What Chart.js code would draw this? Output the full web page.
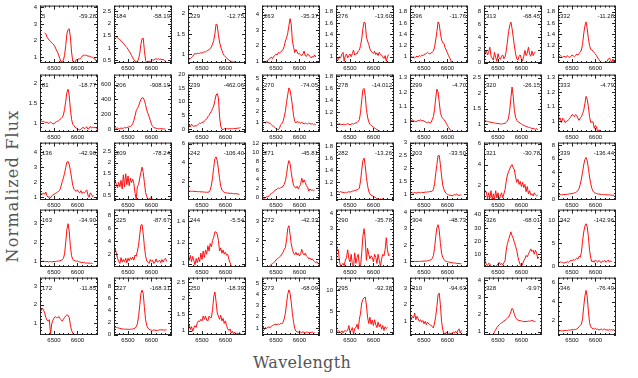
<!DOCTYPE html>
<html>
<head>
<meta charset="utf-8">
<script src="https://cdn.jsdelivr.net/npm/chart.js@4.4.1/dist/chart.umd.min.js"></script>
<style>
  body { margin: 0; background: #fff; }
  #page { position: relative; width: 638px; height: 378px; overflow: hidden; }
  #page canvas { position: absolute; }
  .title { position: absolute; font-family: "DejaVu Serif", serif; font-size: 16px; color: #555; white-space: nowrap; letter-spacing: 0.3px; }
  #ytitle { left: 12px; top: 186px; transform: translate(-50%, -50%) rotate(-90deg); letter-spacing: 1.2px; }
  #xtitle { left: 302px; top: 362px; transform: translate(-50%, -50%); }
</style>
</head>
<body>
<div id="page">
  <div id="ytitle" class="title">Normalized Flux</div>
  <div id="xtitle" class="title">Wavelength</div>
</div>
<script>
// wavelength grid (Angstrom) shared by every panel
const wavelengths = [6440, 6445, 6450, 6455, 6460, 6465, 6470, 6475, 6480, 6485,
  6490, 6495, 6500, 6505, 6510, 6515, 6520, 6525, 6530, 6535,
  6540, 6545, 6550, 6555, 6560, 6565, 6570, 6575, 6580, 6585,
  6590, 6595, 6600, 6605, 6610, 6615, 6620, 6625, 6630, 6635,
  6640, 6645, 6650, 6655, 6660, 6665, 6670, 6675, 6680, 6685];
const xTickLabels = [6500, 6600];

const starIds = ['5', '184', '229', '263', '276', '296', '313', '332',
  '81', '206', '239', '270', '278', '299', '320', '333',
  '136', '209', '242', '271', '282', '303', '321', '339',
  '163', '225', '244', '272', '290', '304', '326', '342',
  '172', '227', '250', '273', '295', '310', '328', '346'];

const velocities = ['-59.28', '-58.19', '-12.75', '-35.37', '-13.60', '-11.76', '-68.45', '-11.28',
  '-18.77', '-908.19', '-462.06', '-74.05', '-14.012', '-4.70', '-26.15', '-4.79',
  '-42.90', '-78.24', '-106.40', '-45.81', '-13.26', '-33.50', '-30.78', '-136.44',
  '-34.90', '-87.67', '-5.54', '-42.33', '-35.78', '-48.73', '-68.01', '-142.96',
  '-11.85', '-168.31', '-18.39', '-68.09', '-92.38', '-94.63', '-9.97', '-76.49'];

// y axis limits and tick steps per panel
const yMin = [0.64, 0.39, 0.79, 0.87, 0.89, 0.89, -0.05, 0.89,
  0.78, -35, -1.1, 0.14, 0.87, 0.925, 0.75, 0.925,
  0.82, 0.3, 0.05, -0.66, 0.9, 0.77, 0.61, -0.1,
  0.7, 0.05, 0.97, 0.57, 0.46, 0.66, 0.2, -0.14,
  0.35, -0.05, 0.86, 0.36, -0.8, 0.18, 0.81, 0.48];
const yMax = [4.1, 2.73, 2.19, 4.6, 1.91, 1.91, 8.87, 1.91,
  2.23, 733, 20, 5.3, 1.83, 1.32, 2.6, 1.32,
  4.66, 2.92, 6.1, 12.1, 1.86, 3.0, 6.1, 8.4,
  3.75, 8.9, 1.51, 3.6, 4.26, 4.16, 44, 12.4,
  3.46, 9.46, 2.65, 5.5, 13.1, 3.63, 4.13, 6.55];
const yMajor = [1, 0.5, 0.5, 1, 0.2, 0.2, 2, 0.2,
  0.5, 200, 5, 1, 0.2, 0.1, 0.5, 0.1,
  1, 0.5, 2, 2, 0.2, 0.5, 2, 2,
  1, 2, 0.2, 1, 1, 1, 10, 5,
  1, 2, 0.5, 1, 5, 1, 1, 2];
const yMinor = [0.2, 0.1, 0.1, 0.2, 0.05, 0.05, 0.5, 0.05,
  0.1, 50, 1, 0.2, 0.05, 0.02, 0.1, 0.02,
  0.2, 0.1, 0.5, 0.5, 0.05, 0.1, 0.5, 0.5,
  0.2, 0.5, 0.05, 0.2, 0.2, 0.2, 2, 1,
  0.2, 0.5, 0.1, 0.2, 1, 0.2, 0.2, 0.5];

// normalized flux (null = no data)
const flux5 = [null, null, null, null, 2.45, 2.4, 2.2, 2.1, 2.0, 1.95,
  1.85, 1.8, 1.72, 1.6, 1.42, 1.3, 1.1, 0.9, 0.72, 0.75,
  0.8, 1.1, 1.7, 2.4, 2.65, 2.7, 2.2, 1.3, 0.75, 0.65,
  0.7, 0.85, 0.8, 0.9, 0.88, 0.95, 1.05, 1.1, 1.12, 1.08,
  1.1, 1.05, 1.06, 1.02, 1.0, 0.98, 0.92, 0.88, 0.78, 0.66];
const flux184 = [1.51, 1.48, 1.45, 1.42, 1.38, 1.34, 1.3, 1.24, 1.2, 1.14,
  1.07, 1.02, 0.95, 0.87, 0.8, 0.7, 0.6, 0.52, 0.47, 0.43,
  0.46, 0.55, 0.77, 1.15, 1.38, 1.4, 0.9, 0.5, 0.4, 0.45,
  0.47, 0.44, 0.5, 0.52, 0.5, 0.55, 0.56, 0.54, 0.56, 0.53,
  0.55, 0.52, 0.54, 0.5, 0.48, null, null, null, null, null];
const flux229 = [0.86, 0.88, 0.9, 0.92, 0.95, 1.0, 1.02, 1.01, 1.03, 1.02,
  1.03, 1.04, 1.03, 1.05, 1.06, 1.06, 1.08, 1.1, 1.12, 1.14,
  1.18, 1.25, 1.34, 1.5, 1.74, 1.72, 1.48, 1.3, 1.18, 1.1,
  1.02, 0.97, 0.94, 0.92, 0.88, 0.86, 0.84, 0.83, 0.82, 0.81,
  0.82, 0.8, 0.81, 0.8, 0.8, null, null, null, null, null];
const flux263 = [0.87, 0.92, 0.95, 0.98, 0.98, 1.05, 1.1, 1.2, 1.25, 1.15,
  1.3, 1.35, 1.45, 1.4, 1.55, 1.5, 1.6, 1.65, 1.75, 1.95,
  2.3, 2.5, 2.8, 3.3, 3.75, 3.4, 2.3, 1.9, 1.55, 1.75,
  1.6, 1.45, 1.5, 1.4, 1.35, 1.45, 1.65, 1.35, 1.3, 1.45,
  1.4, 1.3, 1.2, 1.3, 1.25, 1.4, 1.25, null, null, null];
const flux276 = [0.91, 0.97, 0.95, 1.0, 0.98, 1.05, 1.08, 0.92, 1.02, 1.05,
  0.98, 1.02, 1.05, 1.0, 1.06, 1.12, 1.03, 1.06, 1.05, 1.1,
  1.12, 1.2, 1.32, 1.5, 1.62, 1.6, 1.35, 1.28, 1.22, 1.14,
  1.1, 1.08, 1.06, 1.1, 1.04, 1.07, 1.02, 1.08, 1.04, 1.03,
  1.0, 0.97, 1.02, 0.92, 1.0, 1.04, null, null, null, null];
const flux296 = [0.99, 1.0, 0.99, 1.0, 0.98, 1.0, 1.01, 1.0, 1.02, 1.01,
  1.03, 1.02, 1.04, 1.05, 1.06, 1.08, 1.06, 1.05, 1.07, 1.08,
  1.1, 1.17, 1.3, 1.45, 1.62, 1.58, 1.42, 1.3, 1.25, 1.24,
  1.16, 1.12, 1.07, 1.02, 0.98, 0.93, 0.88, 0.85, 0.84, 0.85,
  0.88, 0.9, 0.89, 0.86, 0.84, null, null, null, null, null];
const flux313 = [0.9, 1.5, 1.9, 1.2, 1.6, 2.4, 1.0, 0.7, 0.4, 1.6,
  0.8, 0.2, 1.4, 0.7, 0.5, 1.0, 1.2, 0.6, 0.9, 1.8,
  3.2, 4.8, 5.8, 6.3, 5.3, 4.0, 2.6, 1.4, 0.6, 0.4,
  1.0, 1.2, 0.6, 0.3, 1.0, 1.9, 1.1, 1.5, 2.4, 1.3,
  1.0, 1.8, 1.1, 1.5, 1.7, null, null, null, null, null];
const flux332 = [1.01, 1.0, 1.02, 1.01, 0.99, 1.01, 1.0, 0.99, 1.02, 1.0,
  0.99, 1.01, 1.03, 1.02, 1.0, 1.02, 1.05, 1.03, 1.06, 1.08,
  1.12, 1.22, 1.41, 1.55, 1.62, 1.5, 1.32, 1.2, 1.13, 1.12,
  1.1, 1.07, 1.05, 1.02, 0.98, 0.95, 0.92, 0.9, 0.89, 0.9,
  0.88, 0.9, 0.92, 0.96, 0.98, 0.94, 0.9, 0.96, 0.88, null];
const flux81 = [1.04, 1.06, 1.04, 1.05, 1.03, 1.02, 1.03, 1.0, 1.01, 1.03,
  1.01, 0.99, 0.98, 1.02, 1.04, 1.05, 1.07, 1.1, 1.12, 1.15,
  1.21, 1.35, 1.55, 1.78, 1.86, 1.7, 1.35, 1.1, 0.98, 0.94,
  0.9, 0.88, 0.86, 0.84, 0.83, 0.85, 0.88, 0.9, 0.86, 0.89,
  0.91, 0.85, 0.87, 0.92, 0.88, 0.9, 0.89, 0.9, 0.88, 0.87];
const flux206 = [13, 20, 15, 18, 10, 8, 20, 12, 15, 28,
  20, 25, 30, 35, 40, 50, 75, 120, 180, 250,
  280, 310, 360, 400, 425, 420, 390, 330, 260, 215,
  170, 120, 70, 40, 25, 20, 15, 12, 10, 8,
  10, 8, 6, 5, 5, null, null, null, null, null];
const flux239 = [0.0, 1.4, 0.8, 1.8, 1.2, 0.9, 1.3, 1.0, 1.5, 1.8,
  2.2, 2.0, 2.5, 2.4, 3.0, 3.3, 3.8, 4.5, 5.0, 5.8,
  6.5, 7.5, 8.5, 10.5, 12.5, 13.0, 11.5, 4.5, 1.0, -0.1,
  -0.2, 0.1, 0.0, 0.1, 0.05, 0.1, 0.1, 0.15, 0.1, 0.2,
  0.15, 0.2, 0.3, 0.3, 0.4, 0.6, null, null, null, null];
const flux270 = [0.85, 0.95, 1.0, 0.95, 1.05, 1.0, 0.95, 0.9, 0.8, 0.7,
  0.65, 0.55, 0.45, 0.4, 0.33, 0.5, 0.8, 0.9, 1.1, 1.5,
  2.0, 2.8, 3.5, 4.1, 3.9, 3.3, 2.5, 1.6, 1.1, 0.95,
  1.1, 1.0, 1.05, 0.9, 1.0, 0.95, 0.85, 0.95, 0.9, 0.85,
  0.95, 0.88, 0.85, 0.9, 0.8, 0.85, 0.78, null, null, null];
const flux278 = [1.0, 1.0, 1.0, 1.01, 1.0, 0.99, 1.0, 1.0, 0.99, 1.0,
  1.01, 1.0, 0.99, 1.0, 1.01, 1.0, 1.02, 1.02, 1.03, 1.05,
  1.08, 1.2, 1.4, 1.58, 1.6, 1.48, 1.25, 1.12, 1.04, 1.0,
  0.98, 0.97, 0.95, 0.94, 0.92, 0.91, 0.9, 0.89, 0.88, 0.87,
  0.86, null, null, null, null, null, null, null, null, null];
const flux299 = [1.005, 1.0, 1.01, 1.0, 1.0, 0.995, 1.0, 1.005, 1.0, 1.01,
  1.0, 1.005, 1.0, 0.995, 0.99, 0.99, 0.995, 0.985, 0.99, 1.01,
  1.03, 1.08, 1.16, 1.22, 1.2, 1.13, 1.06, 1.03, 1.02, 1.01,
  1.0, 0.985, 0.97, 0.955, 0.945, 0.935, 0.925, 0.92, 0.92, 0.925,
  0.92, 0.92, null, null, null, null, null, null, null, null];
const flux320 = [1.1, 1.12, 1.1, 1.09, 1.08, 1.07, 1.06, 1.06, 1.05, 1.04,
  1.03, 1.03, 1.02, 1.02, 1.01, 1.0, 1.02, 1.02, 1.03, 1.06,
  1.1, 1.2, 1.45, 1.85, 2.2, 1.9, 1.45, 1.22, 1.13, 1.08,
  1.06, 1.04, 1.0, 0.98, 0.96, 0.95, 0.93, 0.92, 0.9, 0.9,
  0.88, 0.86, 0.87, 0.85, 0.84, 0.86, 0.82, null, null, null];
const flux333 = [1.05, 1.01, 1.02, 0.99, 1.02, 1.01, 0.99, 0.995, 1.0, 1.01,
  1.02, 1.03, 1.045, 1.04, 1.03, 1.045, 1.04, 1.02, 1.005, 1.02,
  1.03, 1.05, 1.075, 1.12, 1.17, 1.15, 1.1, 1.03, 0.99, 0.995,
  0.995, 0.95, 0.97, 0.96, 0.92, 0.94, 0.93, 0.92, 0.93, 0.92,
  null, null, null, null, null, null, null, null, null, null];
const flux136 = [1.13, 1.25, 1.2, 1.3, 1.2, 1.35, 1.1, 1.0, 1.05, 0.95,
  1.1, 1.15, 1.2, 1.25, 1.3, 1.35, 1.4, 1.5, 1.75, 2.05,
  2.3, 2.6, 3.0, 3.35, 3.4, 3.2, 2.8, 2.3, 1.8, 1.55,
  1.45, 1.4, 1.5, 1.35, 1.3, 1.45, 1.25, 1.35, 1.3, 1.4,
  1.5, 1.15, 1.0, 1.3, 1.2, 1.05, 1.1, null, null, null];
const flux209 = [0.95, 1.2, 1.0, 0.85, 1.1, 0.9, 1.2, 0.8, 1.45, 0.9,
  1.5, 1.0, 1.4, 0.95, 1.3, 1.1, 1.25, 1.05, 0.6, 0.35,
  0.9, 1.0, 1.3, 1.55, 1.8, 1.55, 1.1, 0.65, 0.45, 0.35,
  0.32, 0.4, 0.36, 0.34, 0.3, 0.33, 0.32, 0.35, 0.32, 0.3,
  null, null, null, null, null, null, null, null, null, null];
const flux242 = [0.98, 0.96, 1.0, 0.95, 0.98, 0.95, 0.96, 0.93, 0.95, 0.92,
  0.94, 0.9, 0.92, 0.88, 0.9, 0.85, 0.88, 0.86, 0.9, 1.1,
  1.6, 2.4, 3.5, 4.4, 4.6, 4.2, 3.3, 2.3, 1.5, 1.1,
  0.95, 0.85, 0.82, 0.8, 0.78, 0.76, 0.75, 0.76, 0.74, 0.73,
  0.7, 0.72, 0.7, 0.68, 0.65, null, null, null, null, null];
const flux271 = [null, -0.4, -0.3, -0.1, 0.1, 0.0, 0.3, 0.6, 0.8, 0.9,
  1.2, 1.5, 1.6, 1.8, 2.0, 1.9, 2.1, 2.2, 2.4, 2.8,
  3.6, 5.0, 7.0, 8.1, 7.5, 5.5, 3.8, 2.6, 2.2, 2.0,
  2.4, 1.8, 2.3, 2.8, 4.2, 3.2, 3.8, 3.2, 2.5, 2.2,
  1.3, 1.8, 1.5, 1.6, 1.4, 1.6, null, null, null, null];
const flux282 = [1.04, 1.04, 1.04, 1.03, 1.04, 1.03, 1.03, 1.02, 1.03, 1.02,
  1.03, 1.04, 1.03, 1.04, 1.05, 1.05, 1.06, 1.06, 1.07, 1.08,
  1.1, 1.22, 1.4, 1.56, 1.6, 1.48, 1.28, 1.14, 1.05, 1.0,
  0.98, 0.97, 0.96, 0.95, 0.94, 0.92, 0.92, 0.91, 0.92, 0.91,
  0.92, 0.91, 0.9, null, null, null, null, null, null, null];
const flux303 = [1.04, 1.06, 1.05, 1.04, 1.06, 1.05, 1.04, 1.07, 1.06, 1.05,
  1.07, 1.06, 1.06, 1.08, 1.07, 1.09, 1.08, 1.1, 1.1, 1.12,
  1.17, 1.4, 1.8, 2.15, 2.5, 2.5, 2.15, 1.7, 1.35, 1.18,
  1.08, 1.02, 0.99, 0.97, 0.95, 0.96, 0.93, 0.96, 0.98, 0.97,
  1.0, 0.96, 0.95, 0.97, 0.95, null, null, null, null, null];
const flux321 = [1.0, 1.5, 1.4, 0.7, 1.3, 0.8, 1.5, 0.6, 1.2, 0.7,
  1.5, 0.8, 1.3, 0.6, 1.0, 1.3, 0.8, 1.2, 1.6, 2.4,
  3.0, 3.3, 3.6, 3.85, 4.0, 3.7, 3.5, 2.8, 2.3, 2.6,
  2.1, 2.4, 1.9, 2.3, 1.8, 2.1, 1.4, 1.9, 1.2, 1.5,
  1.1, 1.2, 1.0, 1.3, 1.1, 1.0, 1.1, null, null, null];
const flux339 = [0.68, 0.7, 0.7, 0.68, 0.7, 0.72, 0.7, 0.73, 0.75, 0.78,
  0.8, 0.82, 0.85, 0.9, 0.95, 1.0, 1.1, 1.3, 1.6, 2.2,
  3.0, 4.0, 5.1, 5.9, 6.2, 5.7, 4.6, 3.3, 2.3, 1.6,
  1.2, 1.0, 0.9, 0.85, 0.8, 0.78, 0.75, 0.73, 0.72, 0.7,
  0.7, 0.68, 0.67, 0.66, 0.65, 0.64, 0.62, 0.6, 0.58, null];
const flux163 = [1.0, 1.0, 1.0, 1.01, 0.99, 0.98, 1.0, 0.97, 0.98, 0.99,
  0.97, 0.98, 1.0, 0.98, 1.0, 1.01, 1.02, 1.03, 1.05, 1.08,
  1.15, 1.4, 2.0, 2.7, 3.0, 2.6, 1.8, 1.3, 1.1, 1.05,
  1.03, 1.0, 1.02, 0.98, 0.97, 0.95, 0.94, 0.93, 0.95, 0.9,
  0.92, 0.9, 0.91, 0.9, 0.9, 0.88, null, null, null, null];
const flux225 = [1.9, 2.9, 2.2, 1.4, 0.9, 0.6, 1.5, 0.8, 1.2, 0.8,
  1.4, 0.7, 1.4, 1.0, 1.5, 1.2, 1.6, 1.1, 1.9, 1.7,
  2.5, 3.4, 5.0, 6.5, 6.6, 5.2, 3.2, 1.8, 1.0, 0.8,
  0.6, 1.2, 0.9, 1.1, 0.6, 0.8, 1.3, 0.8, 0.9, 1.1,
  0.7, 1.2, 0.8, 1.2, 1.4, 0.9, null, null, null, null];
const flux244 = [1.09, 1.03, 1.08, 1.02, 1.07, 1.03, 0.99, 1.05, 1.01, 1.06,
  1.02, 1.1, 1.04, 1.12, 1.06, 1.13, 1.09, 1.17, 1.12, 1.19,
  1.16, 1.22, 1.25, 1.3, 1.3, 1.28, 1.22, 1.12, 1.15, 1.1,
  1.13, 1.09, 1.11, 1.08, 1.09, 1.04, 1.01, 0.98, 0.96, null,
  null, null, null, null, null, null, null, null, null, null];
const flux272 = [0.5, 0.52, 0.5, 0.52, 0.55, 0.6, 0.58, 0.65, 0.72, 0.75,
  0.8, 0.85, 0.95, 1.0, 1.05, 1.1, 1.15, 1.25, 1.35, 1.5,
  1.6, 2.0, 2.6, 2.75, 2.3, 1.8, 1.5, 1.3, 1.22, 1.35,
  1.2, 1.3, 1.15, 1.25, 1.5, 1.3, 1.2, 1.3, 1.15, 1.1,
  1.0, 1.05, 0.95, 1.0, 0.9, 0.85, 0.8, 0.85, 0.75, 0.72];
const flux290 = [2.2, 1.6, 1.6, 0.8, 0.5, 0.6, 0.7, 0.55, 0.9, 1.1,
  1.6, 1.0, 0.8, 1.3, 0.6, 0.5, 1.4, 0.7, 1.1, 1.3,
  0.6, 0.5, 1.4, 2.5, 3.0, 2.3, 0.9, 1.7, 1.3, 1.0,
  1.2, 1.1, 0.8, 1.3, 1.1, 0.7, 1.3, 0.9, 0.5, 1.0,
  1.3, 1.2, 1.6, 2.4, 1.6, 1.2, 1.3, null, null, null];
const flux304 = [1.0, 1.0, 1.0, 1.0, 1.0, 1.0, 1.0, 1.0, 1.0, 1.0,
  1.01, 1.01, 1.02, 1.02, 1.03, 1.04, 1.06, 1.08, 1.1, 1.18,
  1.35, 1.8, 2.5, 3.05, 3.24, 2.9, 2.1, 1.5, 1.25, 1.12,
  1.04, 1.0, 0.98, 0.96, 0.95, 0.94, 0.92, 0.91, 0.9, 0.9,
  0.88, 0.87, 0.87, 0.86, 0.86, null, null, null, null, null];
const flux326 = [11, 5, 2, 1.5, 3, 2.5, 1, 0.3, 0, 1.5,
  0.5, 1.3, 2.5, 3.8, 2, 3, 1.8, 3.5, 5, 13,
  18, 21, 24, 27, 24, 22, 19, 16, 13, 8,
  4.5, 2, 0.5, 2.5, 5, 6.5, 9, 8, 10, 12,
  14, 12, 13, 10, 13, 11, 6.5, 8, null, null];
const flux342 = [0.93, 0.8, 1.0, 0.8, 0.9, 0.7, 0.8, 0.9, 1.0, 0.9,
  1.1, 1.3, 1.2, 1.5, 1.3, 1.6, 1.8, 1.6, 2.2, 2.0,
  3.0, 5.5, 7.5, 8.8, 9.3, 8.6, 6.5, 3.5, 1.8, 1.0,
  1.2, 0.9, 1.4, 1.1, 0.9, 1.3, 1.0, 0.8, 1.2, 1.0,
  1.3, 0.9, 1.1, 1.4, 0.9, 1.2, 1.0, null, null, null];
const flux172 = [1.53, 1.7, 1.8, 1.7, 1.55, 1.3, 1.15, 1.1, 1.18, 0.4,
  0.95, 1.15, 1.27, 1.35, 1.3, 1.27, 1.35, 1.25, 1.18, 1.1,
  1.2, 1.3, 1.38, 1.44, 1.42, 1.3, 0.9, 0.6, 0.45, 0.38,
  0.36, null, null, null, null, null, null, null, null, null,
  null, null, null, null, null, null, null, null, null, null];
const flux227 = [1.3, 1.25, 1.2, 1.15, 1.1, 1.05, 1.0, 0.95, 0.95, 0.9,
  0.92, 0.9, 0.9, 0.88, 0.9, 0.92, 0.95, 1.0, 1.1, 1.3,
  1.8, 3.0, 4.8, 6.8, 7.4, 6.8, 4.5, 2.5, 1.5, 1.1,
  0.9, 0.8, 0.75, 0.72, 0.8, 0.75, 0.7, 0.72, 0.75, 0.8,
  0.82, 0.78, 0.8, 0.75, 0.78, 0.8, null, null, null, null];
const flux250 = [1.13, 1.2, 1.03, 1.12, 0.98, 1.08, 1.15, 1.1, 1.25, 1.3,
  1.28, 1.35, 1.3, 1.45, 1.35, 1.45, 1.32, 1.3, 1.45, 1.4,
  1.4, 1.65, 2.05, 2.2, 1.9, 1.55, 1.45, 1.35, 1.48, 1.3,
  1.38, 1.22, 1.3, 1.15, 1.05, 1.0, 1.05, 0.92, 0.98, 0.9,
  0.95, 0.87, 0.92, 0.9, 0.94, 0.88, null, null, null, null];
const flux273 = [1.0, 1.1, 0.85, 1.05, 0.95, 1.05, 1.1, 1.0, 1.15, 1.2,
  1.25, 1.3, 1.32, 1.28, 1.35, 1.3, 1.4, 1.35, 1.5, 1.8,
  2.3, 3.2, 4.0, 4.4, 4.1, 3.3, 2.3, 1.5, 0.95, 0.7,
  0.65, 0.6, 0.7, 0.62, 0.58, 0.65, 0.6, 0.55, 0.62, 0.6,
  0.58, 0.55, 0.6, 0.62, 0.55, 0.6, null, null, null, null];
const flux295 = [0.2, 0.1, 0.3, 0.0, -0.2, 0.2, -0.3, 0.2, 0.2, 0.1,
  0.3, 1.5, -0.2, 0.3, 1.0, -0.6, 0.8, 1.0, 1.8, 0.6,
  3.0, 4.5, 7.0, 7.8, 8.2, 8.4, 6.5, 3.5, 2.0, 3.5,
  1.8, 2.8, 1.5, 2.9, 1.7, 1.0, 2.3, 1.2, 1.8, 0.6,
  1.5, 0.3, 1.2, 0.8, 1.0, null, null, null, null, null];
const flux310 = [1.4, 1.1, 1.3, 1.2, 1.5, 1.1, 1.3, 1.15, 1.0, 1.1,
  0.95, 1.05, 0.85, 1.0, 0.8, 0.95, 0.85, 0.8, 0.75, 0.7,
  0.6, 0.9, 1.3, 1.9, 2.6, 2.7, 2.0, 1.0, 0.5, 0.3,
  0.22, 0.35, 0.28, 0.25, 0.3, 0.25, 0.3, 0.35, 0.3, 0.4,
  0.3, 0.45, 0.55, 0.3, 0.45, null, null, null, null, null];
const flux328 = [null, null, null, null, null, null, null, 0.7, 0.85, 1.0,
  1.12, 1.24, 1.33, 1.4, 1.47, 1.52, 1.56, 1.62, 1.66, 1.72,
  1.78, 1.85, 1.98, 2.15, 2.35, 2.25, 2.0, 1.82, 1.72, 1.68,
  1.64, 1.65, 1.62, 1.6, 1.58, 1.6, 1.58, 1.6, 1.62, 1.6,
  1.63, 1.65, 1.62, 1.6, 1.58, null, null, null, null, null];
const flux346 = [1.1, 0.9, 0.95, 0.9, 0.95, 0.92, 0.95, 0.98, 0.95, 1.0,
  0.98, 1.02, 1.05, 1.03, 1.08, 1.06, 1.12, 1.2, 1.35, 1.5,
  1.6, 2.2, 3.5, 4.6, 5.2, 4.5, 3.0, 1.8, 1.35, 1.2,
  1.15, 1.1, 1.2, 1.05, 1.1, 1.0, 1.05, 1.12, 1.0, 1.08,
  1.1, 1.0, 1.05, 0.95, 1.1, 1.0, 1.05, 0.98, 1.1, null];

const spectra = [flux5, flux184, flux229, flux263, flux276, flux296, flux313, flux332,
  flux81, flux206, flux239, flux270, flux278, flux299, flux320, flux333,
  flux136, flux209, flux242, flux271, flux282, flux303, flux321, flux339,
  flux163, flux225, flux244, flux272, flux290, flux304, flux326, flux342,
  flux172, flux227, flux250, flux273, flux295, flux310, flux328, flux346];

// panel layout
const colLeft = 40, colStep = 74, panelSize = 58;
const rowTops = [5, 74, 142, 209, 277];
const padL = 24, padT = 6, padR = 4, padB = 12;
const tickFont = { family: 'Liberation Sans', size: 6 };

function isMultiple(v, step) {
  const r = v / step;
  return Math.abs(r - Math.round(r)) < 1e-6;
}

function stepValues(min, max, step) {
  const out = [];
  for (let k = Math.ceil(min / step - 1e-6); k * step <= max + 1e-9; k++) {
    out.push(+(k * step).toFixed(6));
  }
  return out;
}

// box frame with inward ticks on all four sides + star id / velocity
const framePlugin = {
  id: 'panelFrame',
  afterDraw(chart, args, opts) {
    const { ctx, chartArea: a } = chart;
    const x = chart.scales.x, y = chart.scales.y;
    ctx.save();
    ctx.strokeStyle = '#222';
    ctx.lineWidth = 1;
    ctx.strokeRect(a.left + 0.5, a.top + 0.5, a.right - a.left - 1, a.bottom - a.top - 1);
    ctx.beginPath();
    stepValues(x.min, x.max, 20).forEach(v => {
      const px = Math.round(x.getPixelForValue(v)) + 0.5;
      const len = v % 100 === 0 ? 4 : 2;
      ctx.moveTo(px, a.bottom); ctx.lineTo(px, a.bottom - len);
      ctx.moveTo(px, a.top); ctx.lineTo(px, a.top + len);
    });
    stepValues(y.min, y.max, opts.minor).forEach(v => {
      const py = Math.round(y.getPixelForValue(v)) + 0.5;
      const len = isMultiple(v, opts.major) ? 4 : 2;
      ctx.moveTo(a.left, py); ctx.lineTo(a.left + len, py);
      ctx.moveTo(a.right, py); ctx.lineTo(a.right - len, py);
    });
    ctx.stroke();
    ctx.fillStyle = '#111';
    ctx.font = '6px "Liberation Sans"';
    ctx.textBaseline = 'middle';
    ctx.textAlign = 'left';
    ctx.fillText(opts.star, a.left + 2, a.top + 11);
    ctx.textAlign = 'right';
    ctx.fillText(opts.velocity, a.right - 2, a.top + 11);
    ctx.restore();
  }
};

const page = document.getElementById('page');

spectra.forEach((flux, i) => {
  const col = i % 8, row = Math.floor(i / 8);
  const canvas = document.createElement('canvas');
  canvas.width = padL + panelSize + padR;
  canvas.height = padT + panelSize + padB;
  canvas.style.left = (colLeft + col * colStep - padL) + 'px';
  canvas.style.top = (rowTops[row] - padT) + 'px';
  page.appendChild(canvas);

  const major = yMajor[i];
  new Chart(canvas, {
    type: 'line',
    data: {
      datasets: [{
        data: wavelengths.map((w, k) => ({ x: w, y: flux[k] })),
        borderColor: '#ff1010',
        borderWidth: 1,
        pointRadius: 0,
        tension: 0
      }]
    },
    options: {
      responsive: false,
      animation: false,
      devicePixelRatio: 1,
      events: [],
      layout: { padding: { left: 0, top: padT, right: padR, bottom: 0 } },
      plugins: {
        legend: { display: false },
        tooltip: { enabled: false },
        panelFrame: { star: starIds[i], velocity: velocities[i], major: major, minor: yMinor[i] }
      },
      scales: {
        x: {
          type: 'linear', min: 6440, max: 6688,
          grid: { display: false, drawTicks: false },
          border: { display: false },
          afterBuildTicks: s => { s.ticks = xTickLabels.map(v => ({ value: v })); },
          ticks: {
            autoSkip: false, maxRotation: 0, padding: 2,
            font: tickFont, color: '#111',
            callback: v => String(v)
          },
          afterFit: s => { s.height = padB; }
        },
        y: {
          min: yMin[i], max: yMax[i],
          grid: { display: false, drawTicks: false },
          border: { display: false },
          afterBuildTicks: s => { s.ticks = stepValues(yMin[i], yMax[i], major).map(v => ({ value: v })); },
          ticks: {
            autoSkip: false, padding: 3,
            font: tickFont, color: '#111',
            callback: v => String(+v.toFixed(4))
          },
          afterFit: s => { s.width = padL; }
        }
      }
    },
    plugins: [framePlugin]
  });
});
</script>
</body>
</html>
